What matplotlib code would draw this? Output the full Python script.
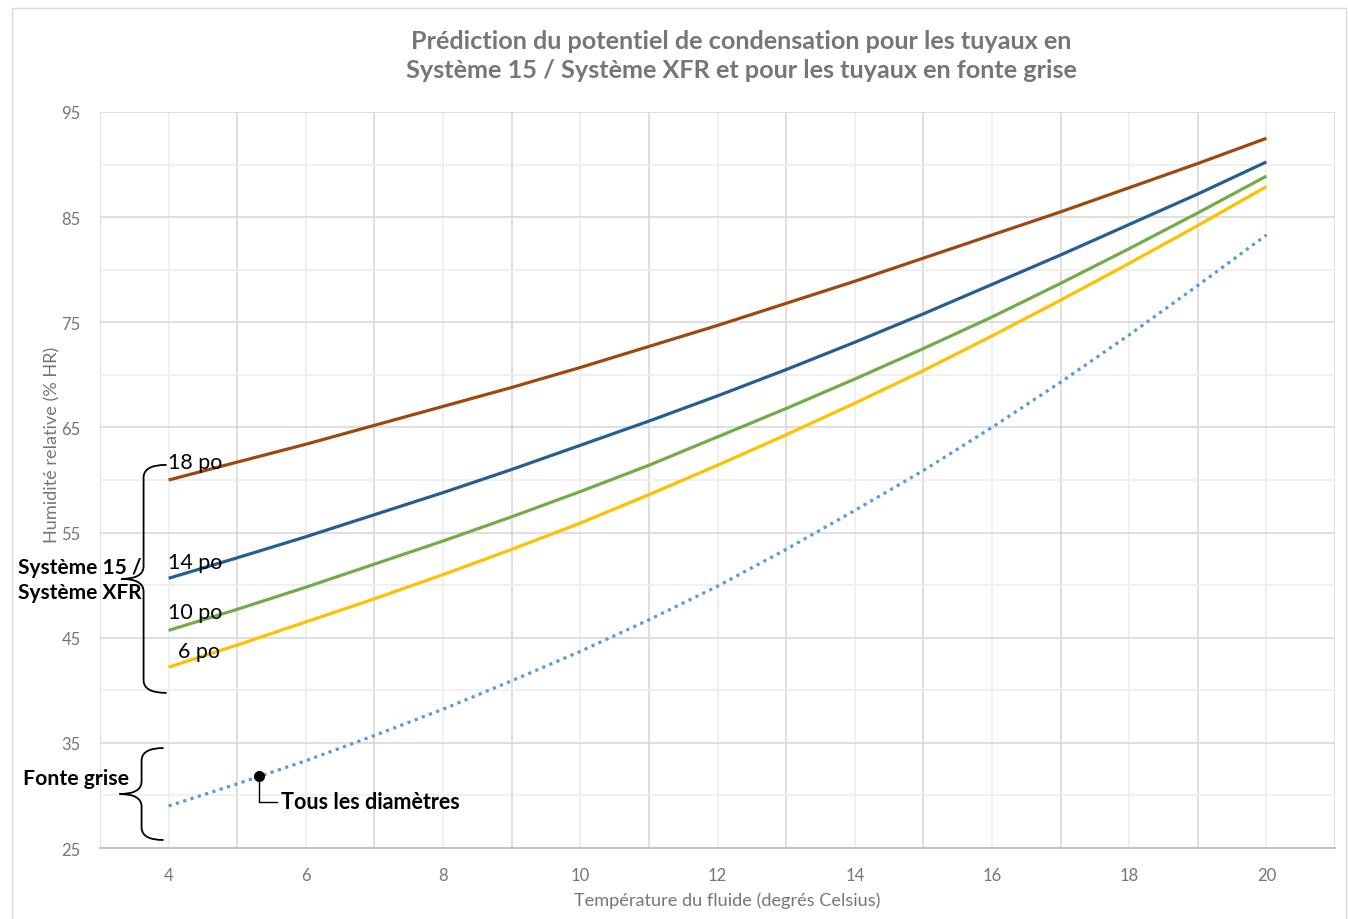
import numpy as np
import matplotlib
matplotlib.use("Agg")
import matplotlib.pyplot as plt
from matplotlib.path import Path
from matplotlib.patches import PathPatch, Rectangle

plt.rcParams['font.family'] = ['Lato', 'DejaVu Sans']

# temperature of the fluid (deg C)
temps = list(range(4, 21))

# relative humidity (% HR) for each pipe
rh_18po = [60.0, 61.7, 63.4, 65.2, 67.0, 68.8, 70.7, 72.7, 74.7, 76.8, 78.9, 81.1, 83.3, 85.5, 87.8, 90.1, 92.5]
rh_14po = [50.65, 52.6, 54.6, 56.7, 58.8, 61.0, 63.3, 65.6, 68.0, 70.5, 73.1, 75.8, 78.6, 81.4, 84.3, 87.2, 90.25]
rh_10po = [45.7, 47.7, 49.8, 52.0, 54.2, 56.5, 58.9, 61.4, 64.1, 66.8, 69.6, 72.5, 75.5, 78.7, 82.0, 85.4, 88.9]
rh_6po = [42.2, 44.3, 46.5, 48.7, 51.0, 53.4, 55.9, 58.6, 61.4, 64.3, 67.3, 70.4, 73.7, 77.1, 80.6, 84.2, 87.9]
rh_fonte = [29.0, 31.1, 33.3, 35.7, 38.2, 40.9, 43.7, 46.7, 49.9, 53.4, 57.1, 60.9, 65.0, 69.3, 73.8, 78.5, 83.3]

series_labels = ["18 po", "14 po", "10 po", "6 po"]
x_ticks = [4, 6, 8, 10, 12, 14, 16, 18, 20]
y_ticks = [25, 35, 45, 55, 65, 75, 85, 95]

title = "Prédiction du potentiel de condensation pour les tuyaux en\nSystème 15 / Système XFR et pour les tuyaux en fonte grise"
grey = "#767676"


def brace(ax, x_bar, x_end, x_tip, y_top, y_bot, r=1.2):
    y_mid = (y_top + y_bot) / 2
    verts = [(x_end, y_top), (x_bar, y_top), (x_bar, y_top - r),
             (x_bar, y_mid + r), (x_bar, y_mid), (x_tip, y_mid),
             (x_bar, y_mid), (x_bar, y_mid - r),
             (x_bar, y_bot + r), (x_bar, y_bot), (x_end, y_bot)]
    codes = [Path.MOVETO, Path.CURVE3, Path.CURVE3,
             Path.LINETO, Path.CURVE3, Path.CURVE3,
             Path.CURVE3, Path.CURVE3,
             Path.LINETO, Path.CURVE3, Path.CURVE3]
    p = PathPatch(Path(verts, codes), fill=False, lw=1.3, ec="black", clip_on=False)
    ax.add_patch(p)


fig = plt.figure(figsize=(13.48, 9.2), dpi=100)
fig.patches.append(Rectangle((12 / 1348, -0.01), 1334 / 1348, 1.0 - 9 / 920 + 0.01,
                             transform=fig.transFigure, fill=False, ec="#d9d9d9", lw=1))
ax = fig.add_axes([100 / 1348, 71 / 920, 1235 / 1348, 736 / 920])

ax.set_xlim(3, 21)
ax.set_ylim(25, 95)

# grid: darker at odd x / labelled y, lighter otherwise
for xv in range(3, 22):
    ax.axvline(xv, color="#d9d9d9" if xv % 2 else "#eeeeee", lw=1.2, zorder=0)
for yv in range(25, 96, 5):
    ax.axhline(yv, color="#d9d9d9" if yv % 10 == 5 else "#eeeeee", lw=1.2, zorder=0)

ax.plot(temps, rh_18po, color="#9E480E", lw=2.3, solid_capstyle="butt")
ax.plot(temps, rh_14po, color="#255E91", lw=2.3, solid_capstyle="butt")
ax.plot(temps, rh_10po, color="#70AD47", lw=2.3, solid_capstyle="butt")
ax.plot(temps, rh_6po, color="#FFC000", lw=2.3, solid_capstyle="butt")
ax.plot(temps, rh_fonte, color="#5B9BD5", lw=2.3, linestyle=(0, (1, 1.4)))

ax.set_xticks(x_ticks)
ax.set_yticks(y_ticks)
ax.tick_params(length=0, colors=grey, labelsize=12)
ax.tick_params(axis="x", pad=14)
ax.tick_params(axis="y", pad=14)
for s in ["left", "right", "top"]:
    ax.spines[s].set_visible(False)
ax.spines["bottom"].set_color("#bfbfbf")
ax.spines["bottom"].set_linewidth(1.3)

ax.set_xlabel("Température du fluide (degrés Celsius)", color=grey, fontsize=13.1)
ax.xaxis.set_label_coords(0.5077, -0.0584)
ax.set_ylabel("Humidité relative (% HR)", color=grey, fontsize=13.1)
ax.yaxis.set_label_coords(-0.0324, 0.549)

fig.text(741 / 1348, 1 - 56 / 920, title, ha="center", va="center", color=grey,
         fontsize=18.2, fontweight="bold", linespacing=1.35)

# labels next to the curves
label_pos = [(3.985, 61.7), (3.985, 52.2), (3.985, 47.45), (4.13, 43.7)]
for lab, (lx, ly) in zip(series_labels, label_pos):
    ax.text(lx, ly, lab, fontsize=15.4, color="black", va="center", ha="left")

brace(ax, 3.635, 3.97, 3.31, 61.44, 39.75)
brace(ax, 3.606, 3.927, 3.285, 34.51, 25.76)

ax.text(1.8, 50.55, "Système 15 /\nSystème XFR", fontsize=15, fontweight="bold",
        va="center", ha="left", linespacing=1.35, clip_on=False)
ax.text(1.88, 31.66, "Fonte grise", fontsize=15.3, fontweight="bold",
        va="center", ha="left", clip_on=False)

# "Tous les diamètres" callout on the cast iron curve
mx = 5.32
my = np.interp(mx, temps, rh_fonte)
ax.plot([mx], [my], "o", color="black", ms=7, zorder=5)
ax.plot([mx, mx, 5.58], [my, 29.4, 29.4], color="black", lw=1, zorder=5)
ax.text(5.635, 29.4, "Tous les diamètres", fontsize=15.5, fontweight="bold",
        va="center", ha="left")

fig.savefig("out.png", dpi=100)
